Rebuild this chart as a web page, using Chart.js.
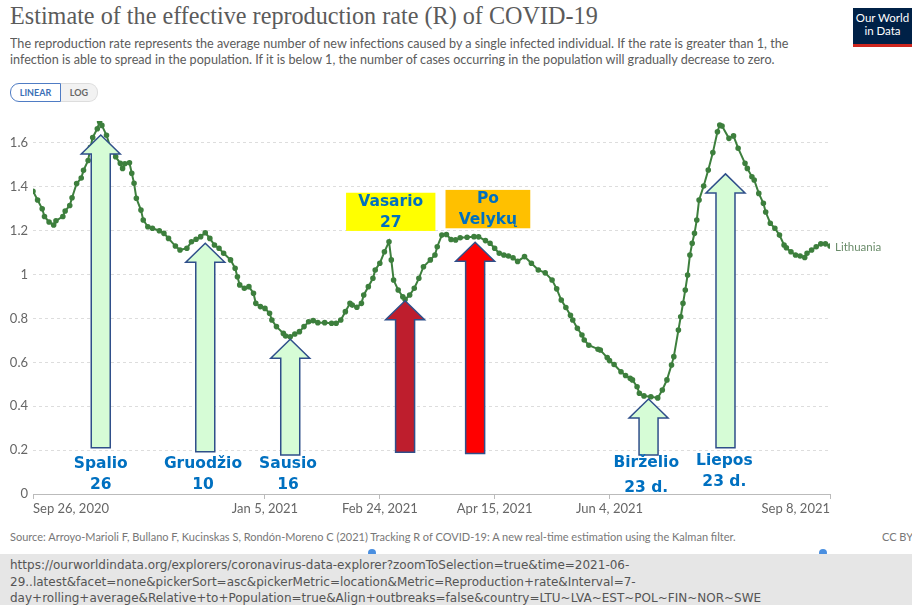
<!DOCTYPE html>
<html>
<head>
<meta charset="utf-8">
<script src="https://cdn.jsdelivr.net/npm/chart.js@4.4.1/dist/chart.umd.min.js"></script>
<style>
  html, body { margin: 0; padding: 0; background: #fff; }
  body { width: 912px; height: 605px; position: relative; overflow: hidden; font-family: Lato, sans-serif; }
  .abs { position: absolute; white-space: nowrap; }
  #title { left: 10px; top: 1px; font: 26px 'Liberation Serif', serif; color: #5b5b5b; transform-origin: left top; transform: scaleX(0.93); }
  #subtitle { left: 10px; top: 35px; font: 13px Lato, sans-serif; line-height: 16px; color: #5b5b5b; transform-origin: left top; transform: scaleX(0.97); }
  #logo { left: 853px; top: 8px; width: 59px; height: 33px; background: #002147; border-bottom: 3px solid #ce261e; color: #fff; font: 11.5px Lato, sans-serif; line-height: 13px; text-align: center; padding-top: 3px; box-sizing: content-box; }
  #btns { left: 10px; top: 83px; height: 19px; display: flex; font: bold 9px Lato, sans-serif; }
  #btns div { display: flex; align-items: center; justify-content: center; }
  #lin { width: 49px; border: 1px solid #4f7cc4; border-radius: 9px 0 0 9px; color: #3b6fb6; background: #fff; }
  #log { width: 36px; border: 1px solid #ddd; border-left: none; border-radius: 0 9px 9px 0; color: #666; background: #f2f2f2; }
  #wrap { position: absolute; left: 0; top: 105px; width: 912px; height: 420px; }
  #source { left: 10px; top: 530px; font: 11px Lato, sans-serif; color: #777; }
  #cc { left: 882px; top: 530px; font: 11px Lato, sans-serif; color: #777; }
  .thumb { position: absolute; top: 549px; width: 8px; height: 8px; border-radius: 50%; background: #4a8fe0; }
  #url { left: 0; top: 554px; width: 912px; height: 51px; background: #e6e6e6; padding: 3px 0 0 10px; box-sizing: border-box; font: 12px 'DejaVu Sans', sans-serif; line-height: 16.5px; color: #555; white-space: normal; }
</style>
</head>
<body>
<div id="title" class="abs">Estimate of the effective reproduction rate (R) of COVID-19</div>
<div id="subtitle" class="abs">The reproduction rate represents the average number of new infections caused by a single infected individual. If the rate is greater than 1, the<br>infection is able to spread in the population. If it is below 1, the number of cases occurring in the population will gradually decrease to zero.</div>
<div id="logo" class="abs">Our World<br>in Data</div>
<div id="btns" class="abs"><div id="lin">LINEAR</div><div id="log">LOG</div></div>
<div id="wrap"><canvas id="chart"></canvas></div>
<div id="source" class="abs">Source: Arroyo-Marioli F, Bullano F, Kucinskas S, Rondón-Moreno C (2021) Tracking R of COVID-19: A new real-time estimation using the Kalman filter.</div>
<div id="cc" class="abs">CC BY</div>
<div class="thumb" style="left:368px"></div>
<div class="thumb" style="left:819px"></div>
<div id="url" class="abs">https://ourworldindata.org/explorers/coronavirus-data-explorer?zoomToSelection=true&amp;time=2021-06-<br>29..latest&amp;facet=none&amp;pickerSort=asc&amp;pickerMetric=location&amp;Metric=Reproduction+rate&amp;Interval=7-<br>day+rolling+average&amp;Relative+to+Population=true&amp;Align+outbreaks=false&amp;country=LTU~LVA~EST~POL~FIN~NOR~SWE</div>

<script>
// days since Sep 26, 2020
const DAYS = [
  0, 2, 4, 5, 7, 9, 10, 13, 14, 16, 17, 19, 21, 22, 24, 25, 26, 28, 29, 30,
  32, 34, 36, 38, 39, 40, 42, 43, 44, 45, 47, 48, 50, 52, 55, 57, 59, 62, 64, 67,
  69, 71, 73, 75, 77, 79, 81, 83, 86, 88, 89, 90, 92, 94, 96, 97, 99, 101, 103, 104,
  106, 109, 110, 112, 114, 116, 118, 120, 122, 124, 127, 130, 132, 134, 136, 138, 139, 141, 143, 144,
  146, 148, 149, 151, 153, 155, 156, 157, 159, 161, 162, 164, 166, 168, 170, 173, 175, 176, 178, 180,
  182, 184, 186, 189, 192, 194, 197, 199, 201, 203, 205, 207, 209, 211, 214, 217, 220, 223, 226, 228,
  230, 232, 234, 235, 237, 239, 240, 242, 246, 247, 250, 251, 253, 256, 258, 260, 261, 263, 264, 266,
  269, 272, 274, 276, 278, 279, 281, 282, 283, 284, 285, 286, 287, 288, 289, 290, 292, 294, 296, 298,
  299, 300, 303, 305, 307, 310, 311, 313, 314, 316, 318, 319, 321, 323, 325, 327, 328, 330, 332, 334,
  336, 337, 339, 341, 343, 345, 347
];
const R_LITHUANIA = [
  1.38, 1.34, 1.30, 1.265, 1.24, 1.226, 1.245, 1.265, 1.29, 1.315, 1.35, 1.415, 1.44, 1.475, 1.52, 1.58, 1.625, 1.665, 1.697, 1.68,
  1.635, 1.57, 1.537, 1.507, 1.484, 1.505, 1.51, 1.462, 1.416, 1.348, 1.294, 1.249, 1.218, 1.211, 1.20, 1.188, 1.165, 1.13, 1.112, 1.12,
  1.15, 1.161, 1.173, 1.191, 1.165, 1.135, 1.12, 1.097, 1.067, 1.029, 0.99, 0.953, 0.938, 0.945, 0.915, 0.869, 0.854, 0.846, 0.824, 0.793,
  0.763, 0.732, 0.72, 0.717, 0.729, 0.74, 0.763, 0.785, 0.79, 0.781, 0.781, 0.778, 0.778, 0.793, 0.831, 0.869, 0.861, 0.851, 0.869, 0.907,
  0.945, 0.983, 1.021, 1.052, 1.104, 1.15, 1.067, 0.975, 0.93, 0.899, 0.887, 0.907, 0.938, 0.983, 1.036, 1.067, 1.089, 1.127, 1.18, 1.183,
  1.16, 1.158, 1.168, 1.17, 1.173, 1.172, 1.155, 1.143, 1.12, 1.097, 1.089, 1.085, 1.077, 1.06, 1.082, 1.052, 1.021, 1.008, 0.975, 0.935,
  0.884, 0.85, 0.815, 0.793, 0.755, 0.725, 0.702, 0.678, 0.66, 0.656, 0.622, 0.608, 0.59, 0.557, 0.54, 0.527, 0.52, 0.489, 0.459, 0.447,
  0.443, 0.438, 0.474, 0.52, 0.588, 0.626, 0.747, 0.808, 0.869, 0.93, 0.998, 1.089, 1.143, 1.188, 1.249, 1.34, 1.404, 1.477, 1.556, 1.651,
  1.682, 1.677, 1.621, 1.632, 1.576, 1.507, 1.484, 1.446, 1.431, 1.37, 1.325, 1.285, 1.234, 1.211, 1.18, 1.135, 1.122, 1.104, 1.089, 1.085,
  1.078, 1.097, 1.112, 1.127, 1.14, 1.14, 1.13
];
const TICK_DAYS = [0, 101, 151, 201, 251, 347];
const TICK_LABELS = ['Sep 26, 2020', 'Jan 5, 2021', 'Feb 24, 2021', 'Apr 15, 2021', 'Jun 4, 2021', 'Sep 8, 2021'];
const Y_TICKS = [0, 0.2, 0.4, 0.6, 0.8, 1, 1.2, 1.4, 1.6];
const SERIES_NAME = 'Lithuania';

// arrows: x in days, tip/base in R units
const ARROWS = [
  { day: 29.5, tip: 1.636, base: 0.211, fill: '#d6fcd6' },
  { day: 75, tip: 1.143, base: 0.193, fill: '#d6fcd6' },
  { day: 112, tip: 0.705, base: 0.178, fill: '#d6fcd6' },
  { day: 162, tip: 0.881, base: 0.19, fill: '#be1e2d' },
  { day: 192.5, tip: 1.147, base: 0.185, fill: '#ff0000' },
  { day: 268, tip: 0.433, base: 0.178, fill: '#d6fcd6' },
  { day: 301.5, tip: 1.459, base: 0.211, fill: '#d6fcd6' },
];
const NOTES = [
  { day: 29.5, lines: ['Spalio', '26'], at: [0.137, 0.041] },
  { day: 74, lines: ['Gruodžio', '10'], at: [0.137, 0.041] },
  { day: 111, lines: ['Sausio', '16'], at: [0.137, 0.041] },
  { day: 267, lines: ['Birželio', '23 d.'], at: [0.141, 0.027] },
  { day: 301, lines: ['Liepos', '23 d.'], at: [0.152, 0.056] },
];
const BOXES = [
  { from: 136.3, to: 175.2, top: 1.373, bottom: 1.199, fill: '#ffff00', lines: ['Vasario', '27'] },
  { from: 179.6, to: 216.5, top: 1.386, bottom: 1.211, fill: '#ffc000', lines: ['Po', 'Velykų'] },
];

const annotations = {
  id: 'annotations',
  afterDatasetsDraw(chart) {
    const { ctx, scales: { x, y } } = chart;
    ctx.save();
    // arrows
    ARROWS.forEach(a => {
      const cx = x.getPixelForValue(a.day);
      const t = y.getPixelForValue(a.tip);
      const b = y.getPixelForValue(a.base);
      const hw = 19.5, hh = 19, sw = 9.5;
      ctx.beginPath();
      ctx.moveTo(cx, t);
      ctx.lineTo(cx + hw, t + hh);
      ctx.lineTo(cx + sw, t + hh);
      ctx.lineTo(cx + sw, b);
      ctx.lineTo(cx - sw, b);
      ctx.lineTo(cx - sw, t + hh);
      ctx.lineTo(cx - hw, t + hh);
      ctx.closePath();
      ctx.fillStyle = a.fill;
      ctx.fill();
      ctx.lineWidth = 1.5;
      ctx.strokeStyle = '#2f4f8a';
      ctx.stroke();
    });
    ctx.font = "bold 15.5px 'DejaVu Sans'";
    ctx.textAlign = 'center';
    ctx.textBaseline = 'middle';
    // highlighted boxes
    BOXES.forEach(bx => {
      const l = x.getPixelForValue(bx.from), r = x.getPixelForValue(bx.to);
      const t = y.getPixelForValue(bx.top), b = y.getPixelForValue(bx.bottom);
      ctx.fillStyle = bx.fill;
      ctx.fillRect(l, t, r - l, b - t);
      ctx.fillStyle = '#0070c0';
      const cx = (l + r) / 2, mid = (t + b) / 2;
      ctx.fillText(bx.lines[0], cx, mid - 10);
      ctx.fillText(bx.lines[1], cx, mid + 11);
    });
    // date notes
    ctx.fillStyle = '#0070c0';
    NOTES.forEach(n => {
      const cx = x.getPixelForValue(n.day);
      n.lines.forEach((s, i) => ctx.fillText(s, cx, y.getPixelForValue(n.at[i])));
    });
    // series label
    const last = DAYS.length - 1;
    ctx.font = '11.5px Lato';
    ctx.textAlign = 'left';
    ctx.fillStyle = '#6a8c6a';
    ctx.fillText(SERIES_NAME, x.getPixelForValue(DAYS[last]) + 5, y.getPixelForValue(R_LITHUANIA[last]) + 1);
    ctx.restore();
  },
};

new Chart(document.getElementById('chart'), {
  type: 'line',
  data: {
    datasets: [{
      label: SERIES_NAME,
      data: DAYS.map((d, i) => ({ x: d, y: R_LITHUANIA[i] })),
      borderColor: '#3d7f3d',
      backgroundColor: '#3d7f3d',
      borderWidth: 2,
      pointRadius: 1.8,
      pointHoverRadius: 2,
      tension: 0,
    }],
  },
  options: {
    responsive: true, maintainAspectRatio: false, animation: false,
    layout: { padding: { left: 0, right: 82, top: 16, bottom: 0 } },
    plugins: { legend: { display: false }, tooltip: { enabled: false } },
    scales: {
      x: {
        type: 'linear', min: 0, max: 347,
        afterBuildTicks: s => { s.ticks = TICK_DAYS.map(v => ({ value: v })); },
        afterFit: s => { s.height = 31; },
        grid: { drawOnChartArea: false, tickLength: 5, color: '#bbb' },
        border: { color: '#bbb' },
        ticks: {
          autoSkip: false, maxRotation: 0, align: 'inner', padding: 2,
          color: '#666', font: { family: 'Lato', size: 13 },
          callback: v => TICK_LABELS[TICK_DAYS.indexOf(v)],
        },
      },
      y: {
        min: 0, max: 1.7,
        afterBuildTicks: s => { s.ticks = Y_TICKS.map(v => ({ value: v })); },
        afterFit: s => { s.width = 33; },
        grid: { color: '#ddd', drawTicks: false },
        border: { display: false, dash: [3, 3] },
        ticks: { padding: 5, color: '#666', font: { family: 'Lato', size: 13 }, callback: v => String(v) },
      },
    },
  },
  plugins: [annotations],
});
</script>
</body>
</html>
